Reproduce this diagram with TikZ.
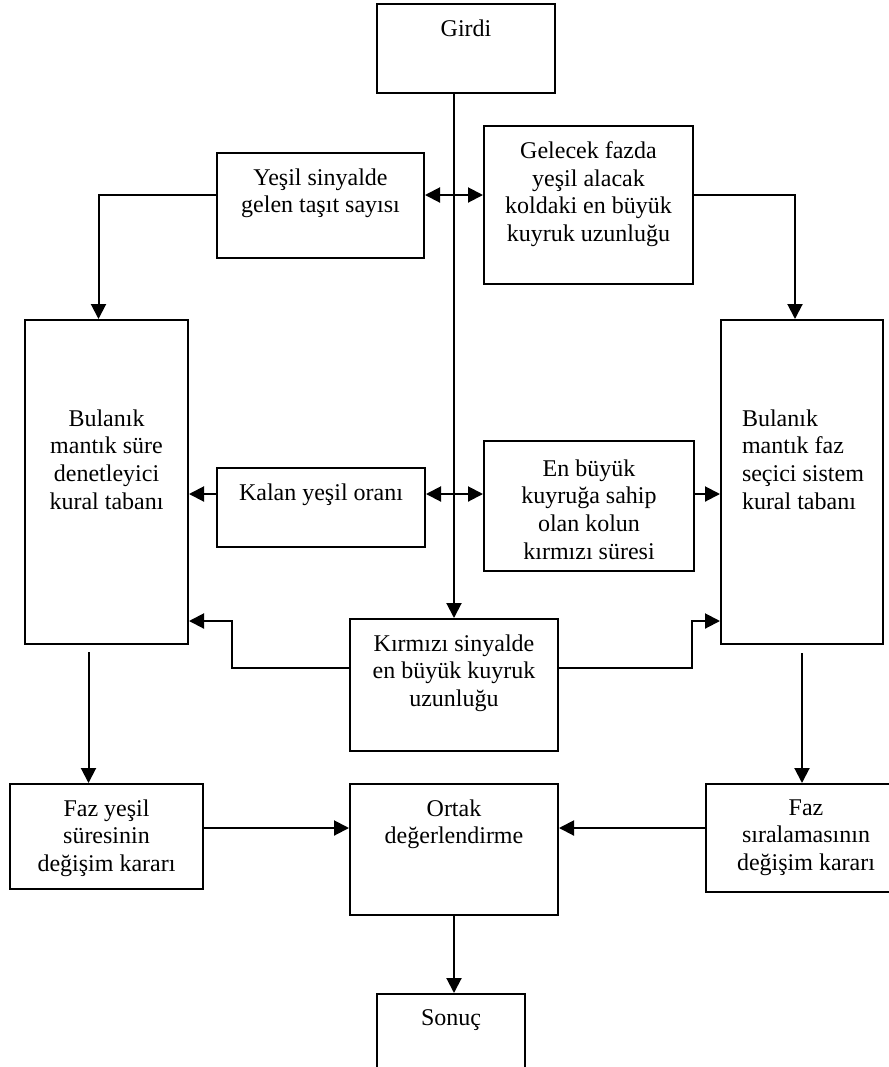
\documentclass[tikz,border=0pt]{standalone}
\usepackage{fontspec}
\setmainfont{Liberation Serif}
\usetikzlibrary{arrows.meta}

\begin{document}
\begin{tikzpicture}[x=0.5pt, y=-0.5pt, line width=1pt,
  box/.style={draw, anchor=north west, inner sep=0pt},
  txt/.style={anchor=north, align=center, inner sep=0pt, yshift=-7.8pt, font=\fontsize{12pt}{13.8pt}\selectfont},
  >={Triangle[length=7.5pt,width=7.5pt]}]
\useasboundingbox (0,0) rectangle (889,1067);
\clip (0,0) rectangle (889,1067);

\node[box, minimum width=89pt, minimum height=44.5pt, label={[txt]north:Girdi}] (girdi) at (376,3) {};
\node[box, minimum width=103.5pt, minimum height=52.5pt, label={[txt]north:Yeşil sinyalde\\gelen taşıt sayısı}] (yesil) at (216,152) {};
\node[box, minimum width=104.5pt, minimum height=79pt, label={[txt]north:Gelecek fazda\\yeşil alacak\\koldaki en büyük\\kuyruk uzunluğu}] (gelecek) at (483,125) {};
\node[box, minimum width=81.5pt, minimum height=162pt, label={[txt, yshift=-37pt]north:Bulanık\\mantık süre\\denetleyici\\kural tabanı}] (sure) at (24,319) {};
\node[box, minimum width=81pt, minimum height=162pt, label={[txt, anchor=north west, align=left, xshift=10.5pt, yshift=-37pt]north west:Bulanık\\mantık faz\\seçici sistem\\kural tabanı}] (faz) at (720,319) {};
\node[box, minimum width=104pt, minimum height=39.5pt, label={[txt]north:Kalan yeşil oranı}] (kalan) at (216,467) {};
\node[box, minimum width=105pt, minimum height=65pt, label={[txt, yshift=-1.5pt]north:En büyük\\kuyruğa sahip\\olan kolun\\kırmızı süresi}] (enbuyuk) at (483,440) {};
\node[box, minimum width=104pt, minimum height=66pt, label={[txt]north:Kırmızı sinyalde\\en büyük kuyruk\\uzunluğu}] (kirmizi) at (349,618) {};
\node[box, minimum width=96.5pt, minimum height=52.5pt, label={[txt]north:Faz yeşil\\süresinin\\değişim kararı}] (fazyesil) at (9,783) {};
\node[box, minimum width=104pt, minimum height=65.5pt, label={[txt]north:Ortak\\değerlendirme}] (ortak) at (349,783) {};
\node[box, minimum width=100pt, minimum height=54pt, label={[txt]north:Faz\\sıralamasının\\değişim kararı}] (fazsira) at (705,783) {};
\node[box, minimum width=74pt, minimum height=60pt, label={[txt]north:Sonuç}] (sonuc) at (376,993) {};

% girdi dagitimi
\draw[->] (girdi.south -| kirmizi.north) -- (kirmizi.north);
\draw[<->] ([yshift=5.25pt]yesil.east) -- ([yshift=5.25pt]yesil.east -| gelecek.west);
\draw[<->] ([yshift=6.75pt]kalan.east) -- ([yshift=6.75pt]kalan.east -| enbuyuk.west);

% kural tabanlarina girisler
\draw[->] ([yshift=5.25pt]yesil.west) -| ([xshift=-4pt]sure.north);
\draw[->] ([yshift=5pt]gelecek.east) -| ([xshift=-3.5pt]faz.north);
\draw[->] ([yshift=6.75pt]kalan.west) -- ([yshift=6.75pt]kalan.west -| sure.east);
\draw[->] ([yshift=6pt]enbuyuk.east) -- ([yshift=6pt]enbuyuk.east -| faz.west);
\draw[->] ([yshift=8.5pt]kirmizi.west) -- ++(-58.5pt,0) |- ([yshift=12pt]sure.south east);
\draw[->] ([yshift=8.5pt]kirmizi.east) -- ++(66.5pt,0) |- ([yshift=12pt]faz.south west);

% kararlar
\draw[->] ([xshift=-9pt,yshift=-3.5pt]sure.south) -- ([xshift=-9pt]sure.south |- fazyesil.north);
\draw[->] ([yshift=-4pt]faz.south) -- (faz.south |- fazsira.north);
\draw[->] ([yshift=4.25pt]fazyesil.east) -- ([yshift=4.25pt]fazyesil.east -| ortak.west);
\draw[->] ([yshift=5pt]fazsira.west) -- ([yshift=5pt]fazsira.west -| ortak.east);
\draw[->] (ortak.south) -- (ortak.south |- sonuc.north);

\end{tikzpicture}
\end{document}
